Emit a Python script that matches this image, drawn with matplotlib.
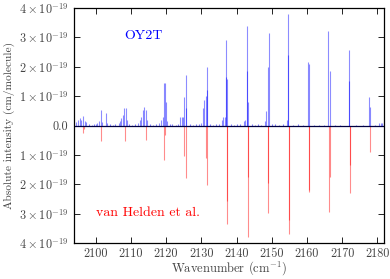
import matplotlib
matplotlib.use("Agg")
import matplotlib.pyplot as plt
from matplotlib.ticker import FixedLocator, FixedFormatter

plt.rcParams['font.family'] = 'serif'
plt.rcParams['font.serif'] = ['cmr10', 'DejaVu Serif']
plt.rcParams['mathtext.fontset'] = 'cm'
plt.rcParams['axes.unicode_minus'] = False

# OY2T stick lines: wavenumber (cm-1), intensity (units of 1e-19 cm/molecule)
oy2t_pos = [2094.5, 2095.0, 2095.5, 2096.0, 2096.5, 2097.0, 2097.4,
            2100.0, 2100.5, 2101.0, 2101.4, 2101.7, 2102.9, 2103.2,
            2106.6, 2107.0, 2107.3, 2107.8, 2108.2, 2108.5, 2108.8,
            2112.0, 2112.5, 2113.0, 2113.4, 2113.7, 2114.3, 2114.6,
            2118.0, 2118.5, 2119.0, 2119.3, 2119.6, 2119.9, 2120.2,
            2124.0, 2124.4, 2124.8, 2125.2, 2125.7, 2125.8,
            2130.0, 2130.6, 2130.9, 2131.2, 2131.5, 2131.6,
            2135.8, 2136.3, 2136.7, 2137.0, 2137.1, 2137.4,
            2142.0, 2142.5, 2143.0, 2143.1, 2143.3,
            2148.2, 2148.5, 2148.8, 2149.1,
            2154.2, 2154.6, 2154.7,
            2160.3, 2160.5,
            2166.1, 2166.4,
            2171.9, 2172.0,
            2177.7, 2177.8,
            2180.5, 2181.0, 2181.4, 2181.8]
oy2t_int = [0.12, 0.20, 0.25, 0.18, 0.32, 0.15, 0.12,
            0.05, 0.10, 0.15, 0.55, 0.12, 0.43, 0.10,
            0.08, 0.15, 0.25, 0.38, 0.61, 0.60, 0.20,
            0.10, 0.20, 0.30, 0.55, 0.63, 0.55, 0.20,
            0.10, 0.20, 0.30, 1.46, 1.46, 0.80, 0.15,
            0.30, 0.30, 0.30, 0.99, 1.73, 0.60,
            0.10, 0.60, 0.88, 1.00, 2.00, 1.20,
            0.20, 0.30, 0.30, 2.93, 1.67, 1.60,
            0.15, 0.20, 1.87, 3.38, 0.80,
            0.15, 0.50, 2.00, 3.15,
            0.20, 3.80, 2.40,
            2.18, 2.10,
            3.23, 1.87,
            2.57, 1.53,
            0.99, 0.65,
            0.08, 0.10, 0.08, 0.10]

# small background lines of OY2T
bg_pos = [2098.2, 2099.0, 2099.6, 2104.0, 2104.8, 2105.5, 2109.6, 2110.3, 2111.2,
          2115.5, 2116.3, 2117.2, 2121.0, 2121.8, 2122.7, 2123.4, 2126.8, 2127.6,
          2128.5, 2129.3, 2132.6, 2133.4, 2134.3, 2135.0, 2138.4, 2139.3, 2140.2,
          2141.1, 2144.3, 2145.2, 2146.1, 2147.0, 2150.2, 2151.0, 2152.0, 2153.1,
          2156.0, 2157.5, 2158.8, 2162.0, 2163.4, 2164.8, 2168.0, 2169.5, 2174.0, 2176.0, 2179.2]
bg_int = [0.05, 0.04, 0.07, 0.06, 0.04, 0.05, 0.06, 0.04, 0.07,
          0.05, 0.04, 0.06, 0.05, 0.07, 0.04, 0.06, 0.05, 0.04,
          0.07, 0.05, 0.06, 0.04, 0.05, 0.07, 0.05, 0.04, 0.06,
          0.05, 0.06, 0.04, 0.05, 0.04, 0.05, 0.06, 0.04, 0.05,
          0.04, 0.05, 0.03, 0.04, 0.03, 0.04, 0.03, 0.04, 0.03, 0.03, 0.04]

# van Helden et al. stick lines
vh_pos = [2096.5, 2096.7, 2101.4, 2108.4, 2114.3, 2119.5, 2119.6,
          2125.2, 2125.7, 2131.3, 2131.7, 2137.2, 2137.3, 2143.2, 2143.3,
          2148.9, 2149.0, 2154.8, 2154.85, 2160.6, 2160.7, 2166.3, 2166.4,
          2172.1, 2172.15, 2177.9]
vh_int = [0.24, 0.12, 0.52, 0.53, 0.50, 1.16, 0.30,
          1.03, 1.79, 1.10, 2.02, 3.33, 2.57, 3.78, 1.74,
          2.97, 1.96, 3.70, 3.21, 2.26, 2.20, 2.93, 1.74,
          2.28, 1.34, 0.89]

yticks = [-4, -3, -2, -1, 0, 1, 2, 3, 4]
ytick_labels = [r'$4\times10^{-19}$', r'$3\times10^{-19}$', r'$2\times10^{-19}$',
                r'$1\times10^{-19}$', '0.0', r'$1\times10^{-19}$',
                r'$2\times10^{-19}$', r'$3\times10^{-19}$', r'$4\times10^{-19}$']
xticks = [2100, 2110, 2120, 2130, 2140, 2150, 2160, 2170, 2180]

fig = plt.figure(figsize=(3.9, 2.79), dpi=100)
ax = fig.add_axes([0.19, 0.128, 0.795, 0.843])

ax.vlines(bg_pos, 0, bg_int, colors='blue', alpha=0.5, lw=0.8)
ax.vlines(oy2t_pos, 0, oy2t_int, colors='blue', alpha=0.45, lw=0.8)
ax.vlines(vh_pos, 0, [-v for v in vh_int], colors='red', alpha=0.45, lw=0.8)
ax.axhline(0, color='#000040', lw=0.9)

ax.set_xlim(2093.9, 2181.9)
ax.set_ylim(-4, 4)
ax.yaxis.set_major_locator(FixedLocator(yticks))
ax.yaxis.set_major_formatter(FixedFormatter(ytick_labels))
ax.xaxis.set_major_locator(FixedLocator(xticks))

ax.tick_params(direction='in', top=True, right=True, length=4, width=0.6,
               labelsize=8.8, labelcolor='#444444')
ax.tick_params(axis='x', pad=3)
ax.tick_params(axis='y', pad=4)
for s in ax.spines.values():
    s.set_linewidth(0.9)

ax.set_xlabel(r'Wavenumber (cm$^{-1}$)', fontsize=9, color='#444444', va='center')
ax.xaxis.set_label_coords(0.5, -0.106)
ax.set_ylabel('Absolute intensity (cm/molecule)', fontsize=8.2, color='#444444', labelpad=3)

ax.text(2108.2, 3.04, 'OY2T', color='blue', fontsize=10, va='center', ha='left')
ax.text(2100.1, -2.97, 'van Helden et al.', color='red', fontsize=10, va='center', ha='left')

fig.savefig('out.png', dpi=100)
